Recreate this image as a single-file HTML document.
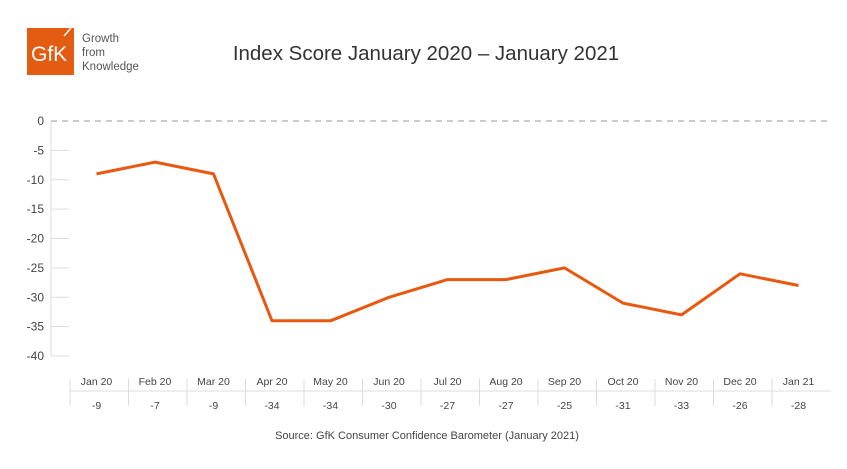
<!DOCTYPE html>
<html><head><style>
body{margin:0;background:#fff;}
text{font-family:"Liberation Sans",sans-serif;}
</style></head><body>
<svg width="847" height="464" xmlns="http://www.w3.org/2000/svg">
<rect width="847" height="464" fill="#fff"/>
<rect x="27" y="28" width="47" height="47" fill="#e35c12"/>
<text x="31" y="61" font-size="21" fill="#fff">GfK</text>
<line x1="64" y1="36" x2="71" y2="28" stroke="#fff" stroke-width="1.5"/>
<text x="82" y="42" font-size="11.5" fill="#555">Growth</text>
<text x="82" y="56" font-size="11.5" fill="#555">from</text>
<text x="82" y="70" font-size="11.5" fill="#555">Knowledge</text>
<text x="426" y="60" font-size="20.5" fill="#333" text-anchor="middle">Index Score January 2020 – January 2021</text>
<g stroke="#ddd" stroke-width="1">
<line x1="51" y1="121" x2="51" y2="356"/>
<line x1="51" y1="150.4" x2="69" y2="150.4"/>
<line x1="51" y1="179.8" x2="69" y2="179.8"/>
<line x1="51" y1="209.1" x2="69" y2="209.1"/>
<line x1="51" y1="238.5" x2="69" y2="238.5"/>
<line x1="51" y1="267.9" x2="69" y2="267.9"/>
<line x1="51" y1="297.3" x2="69" y2="297.3"/>
<line x1="51" y1="326.6" x2="69" y2="326.6"/>
<line x1="51" y1="356" x2="69" y2="356"/>
<line x1="70" y1="391" x2="831" y2="391"/>
</g>
<line x1="51" y1="121" x2="831" y2="121" stroke="#999" stroke-dasharray="6,5"/>
<g font-size="12" fill="#444" text-anchor="end">
<text x="44" y="125">0</text><text x="44" y="154.4">-5</text><text x="44" y="183.8">-10</text><text x="44" y="213.1">-15</text><text x="44" y="242.5">-20</text><text x="44" y="271.9">-25</text><text x="44" y="301.3">-30</text><text x="44" y="330.6">-35</text><text x="44" y="360">-40</text>
</g>
<g stroke="#ddd">
<line x1="70" y1="379" x2="70" y2="406"/><line x1="128.5" y1="379" x2="128.5" y2="406"/><line x1="187" y1="379" x2="187" y2="406"/><line x1="245.5" y1="379" x2="245.5" y2="406"/><line x1="304" y1="379" x2="304" y2="406"/><line x1="362.5" y1="379" x2="362.5" y2="406"/><line x1="421" y1="379" x2="421" y2="406"/><line x1="479.5" y1="379" x2="479.5" y2="406"/><line x1="538" y1="379" x2="538" y2="406"/><line x1="596.5" y1="379" x2="596.5" y2="406"/><line x1="655" y1="379" x2="655" y2="406"/><line x1="713.5" y1="379" x2="713.5" y2="406"/><line x1="772" y1="379" x2="772" y2="406"/>
</g>
<g font-size="10.5" fill="#444" text-anchor="middle">
<text x="96.5" y="385">Jan 20</text><text x="155" y="385">Feb 20</text><text x="213.5" y="385">Mar 20</text><text x="272" y="385">Apr 20</text><text x="330.5" y="385">May 20</text><text x="389" y="385">Jun 20</text><text x="447.5" y="385">Jul 20</text><text x="506" y="385">Aug 20</text><text x="564.5" y="385">Sep 20</text><text x="623" y="385">Oct 20</text><text x="681.5" y="385">Nov 20</text><text x="740" y="385">Dec 20</text><text x="798.5" y="385">Jan 21</text>
<text x="96.5" y="409">-9</text><text x="155" y="409">-7</text><text x="213.5" y="409">-9</text><text x="272" y="409">-34</text><text x="330.5" y="409">-34</text><text x="389" y="409">-30</text><text x="447.5" y="409">-27</text><text x="506" y="409">-27</text><text x="564.5" y="409">-25</text><text x="623" y="409">-31</text><text x="681.5" y="409">-33</text><text x="740" y="409">-26</text><text x="798.5" y="409">-28</text>
</g>
<polyline fill="none" stroke="#e8580f" stroke-width="3" stroke-linejoin="round" points="96.5,173.9 155,162.1 213.5,173.9 272,320.8 330.5,320.8 389,297.3 447.5,279.6 506,279.6 564.5,267.9 623,303.1 681.5,314.9 740,273.8 798.5,285.5"/>
<text x="427" y="439" font-size="11" fill="#444" text-anchor="middle">Source: GfK Consumer Confidence Barometer (January 2021)</text>
</svg>
</body></html>
